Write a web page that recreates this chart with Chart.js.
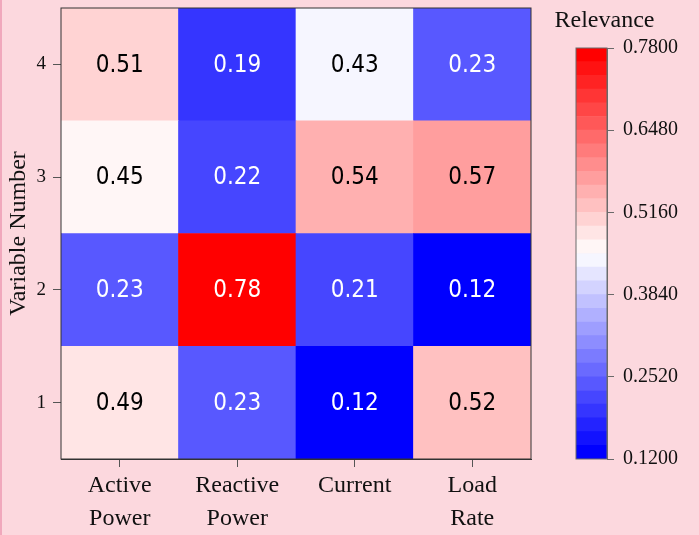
<!DOCTYPE html>
<html>
<head>
    <title>Variable Relevance</title>
    <script src="https://cdn.jsdelivr.net/npm/chart.js"></script>
    <style>
        body {
            margin: 0;
            width: 699px;
            height: 535px;
            position: relative;
            overflow: hidden;
            background: #fcd8de;
        }
        #edge { position: absolute; left: 0; top: 0; width: 2px; height: 535px; background: #f0a8bc; }
        #heat { position: absolute; left: 0; top: 0; }
        #scale { position: absolute; left: 540px; top: 0; }
    </style>
</head>
<body>
    <div id="edge"></div>
    <canvas id="heat" width="545" height="535"></canvas>
    <canvas id="scale" width="159" height="535"></canvas>

    <script>
        // Data (row = variable number, column = category)
        var categories = [['Active', 'Power'], ['Reactive', 'Power'], ['Current'], ['Load', 'Rate']];
        var variableNumbers = [1, 2, 3, 4];
        var relevance1 = [0.49, 0.23, 0.12, 0.52];
        var relevance2 = [0.23, 0.78, 0.21, 0.12];
        var relevance3 = [0.45, 0.22, 0.54, 0.57];
        var relevance4 = [0.51, 0.19, 0.43, 0.23];
        var rows = [relevance1, relevance2, relevance3, relevance4];

        var colorbarTicks = [0.12, 0.252, 0.384, 0.516, 0.648, 0.78];
        var colorbarLevels = 30;

        var serif = "'Liberation Serif', 'Times New Roman', serif";
        var vmin = colorbarTicks[0];
        var vmax = colorbarTicks[colorbarTicks.length - 1];

        // blue -> white -> red
        function bwr(t) {
            t = Math.max(0, Math.min(1, t));
            var r, g, b;
            if (t < 0.5) {
                r = g = Math.round(510 * t); b = 255;
            } else {
                r = 255; g = b = Math.round(510 * (1 - t));
            }
            return 'rgb(' + r + ',' + g + ',' + b + ')';
        }
        // same discrete levels as the colour bar
        function colorFor(v) {
            var k = Math.floor((v - vmin) / (vmax - vmin) * colorbarLevels + 1e-9);
            k = Math.max(0, Math.min(colorbarLevels - 1, k));
            return bwr(k / (colorbarLevels - 1));
        }

        var frame = {
            id: 'frame',
            afterDatasetsDraw: function(chart, args, opts) {
                var a = chart.chartArea, ctx = chart.ctx;
                ctx.save();
                ctx.strokeStyle = opts.color;
                ctx.lineWidth = 1;
                ctx.strokeRect(a.left, a.top, a.right - a.left, a.bottom - a.top);
                ctx.restore();
            }
        };

        var cellLabels = {
            id: 'cellLabels',
            afterDatasetsDraw: function(chart) {
                var ctx = chart.ctx;
                ctx.save();
                ctx.font = "24px 'DejaVu Sans Condensed', 'DejaVu Sans', sans-serif";
                ctx.textAlign = 'center';
                ctx.textBaseline = 'middle';
                chart.data.datasets.forEach(function(ds, i) {
                    chart.getDatasetMeta(i).data.forEach(function(el, j) {
                        var v = ds.values[j];
                        var t = (v - vmin) / (vmax - vmin);
                        var p = el.getCenterPoint();
                        ctx.fillStyle = (t < 0.3 || t > 0.8) ? '#ffffff' : '#000000';
                        ctx.fillText(v.toFixed(2), p.x, p.y + 1);
                    });
                });
                ctx.restore();
            }
        };

        // colour bar caption, drawn without a width limit
        var caption = {
            id: 'caption',
            afterDraw: function(chart, args, opts) {
                var ctx = chart.ctx;
                ctx.save();
                ctx.font = '24px ' + serif;
                ctx.fillStyle = '#111111';
                ctx.textAlign = 'center';
                ctx.textBaseline = 'alphabetic';
                ctx.fillText(opts.text, (chart.chartArea.left + chart.chartArea.right) / 2 + 13, chart.chartArea.top - 21);
                ctx.restore();
            }
        };

        window.onload = function() {
            var heatSets = variableNumbers.map(function(n, i) {
                return {
                    label: 'Variable ' + n,
                    values: rows[i],
                    data: rows[i].map(function() { return [n - 0.5, n + 0.5]; }),
                    backgroundColor: rows[i].map(colorFor),
                    borderWidth: 0,
                    barPercentage: 1,
                    categoryPercentage: 1,
                    grouped: false
                };
            });

            new Chart(document.getElementById('heat').getContext('2d'), {
                type: 'bar',
                data: { labels: categories, datasets: heatSets },
                plugins: [cellLabels, frame],
                options: {
                    responsive: false,
                    animation: false,
                    layout: { padding: { left: 0, right: 14, top: 8, bottom: 0 } },
                    plugins: {
                        legend: { display: false },
                        tooltip: { enabled: false },
                        frame: { color: '#333333' }
                    },
                    scales: {
                        x: {
                            type: 'category',
                            offset: true,
                            afterFit: function(s) { s.height = 76; s.paddingLeft = 0; s.paddingRight = 0; },
                            grid: { display: true, offset: false, drawOnChartArea: false, drawTicks: true, tickLength: 8, tickColor: '#555555' },
                            border: { display: true, color: '#333333' },
                            ticks: { color: '#111111', padding: 3, maxRotation: 0, font: { family: serif, size: 24, lineHeight: 1.34 } }
                        },
                        y: {
                            type: 'linear',
                            min: 0.5,
                            max: 4.5,
                            afterFit: function(s) { s.width = 61; s.paddingTop = 0; s.paddingBottom = 0; },
                            afterBuildTicks: function(s) { s.ticks = variableNumbers.map(function(n) { return { value: n }; }); },
                            grid: { display: true, drawOnChartArea: false, drawTicks: true, tickLength: 8, tickColor: '#555555' },
                            border: { display: true, color: '#333333' },
                            title: { display: true, text: 'Variable Number', color: '#111111', padding: 4, font: { family: serif, size: 24 } },
                            ticks: { color: '#111111', padding: 7, font: { family: serif, size: 19 } }
                        }
                    }
                }
            });

            // colour bar
            var step = (vmax - vmin) / colorbarLevels;
            var barSets = [];
            for (var k = 0; k < colorbarLevels; k++) {
                barSets.push({
                    data: [[vmin + k * step, vmin + (k + 1) * step]],
                    backgroundColor: bwr(k / (colorbarLevels - 1)),
                    borderWidth: 0,
                    barPercentage: 1,
                    categoryPercentage: 1,
                    grouped: false
                });
            }

            new Chart(document.getElementById('scale').getContext('2d'), {
                type: 'bar',
                data: { labels: [''], datasets: barSets },
                plugins: [frame, caption],
                options: {
                    responsive: false,
                    animation: false,
                    layout: { padding: { left: 36, right: 0, top: 48, bottom: 76 } },
                    plugins: {
                        legend: { display: false },
                        tooltip: { enabled: false },
                        frame: { color: '#6a6a6a' },
                        caption: { text: 'Relevance' }
                    },
                    scales: {
                        x: { display: false, offset: true },
                        y: {
                            type: 'linear',
                            position: 'right',
                            min: vmin,
                            max: vmax,
                            afterFit: function(s) { s.width = 92; s.paddingTop = 0; s.paddingBottom = 0; },
                            afterBuildTicks: function(s) { s.ticks = colorbarTicks.map(function(v) { return { value: v }; }); },
                            grid: { display: true, drawOnChartArea: false, drawTicks: true, tickLength: 7, tickColor: '#6a6a6a' },
                            border: { display: true, color: '#6a6a6a' },
                            ticks: {
                                color: '#111111',
                                padding: 9,
                                font: { family: serif, size: 20 },
                                callback: function(v) { return Number(v).toFixed(4); }
                            }
                        }
                    }
                }
            });
        };
    </script>
</body>
</html>
